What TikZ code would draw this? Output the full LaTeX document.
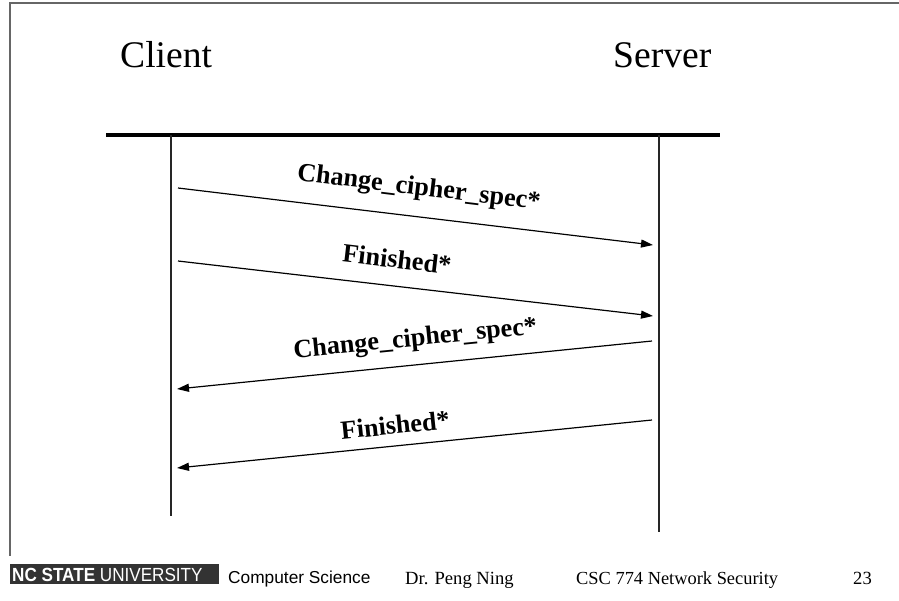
\documentclass[tikz,border=0pt]{standalone}
\usepackage{fontspec}
\setmainfont{Liberation Serif}
\setsansfont{Liberation Sans}
\newfontfamily\logofont[FakeStretch=0.9]{Liberation Sans}
\usetikzlibrary{arrows.meta}

\tikzset{
  frameline/.style={draw=black!60, line width=1.5pt},
  lifeline/.style={draw=black!85, line width=1.3pt},
  msg/.style={draw=black, line width=1.2pt, -{Triangle[length=12pt,width=8pt]}},
  party/.style={anchor=base west, inner sep=0pt, font=\fontsize{37.6}{40}\selectfont},
  msglabel/.style={anchor=base, inner sep=0pt, font=\fontsize{26.2}{28}\selectfont\bfseries},
  foot/.style={anchor=base west, inner sep=0pt},
}

\begin{document}
\begin{tikzpicture}[x=1pt, y=-1pt]
  \useasboundingbox (0,0) rectangle (899,600);

  % slide frame
  \draw[frameline] (899,3) -- (10,3) -- (10,556);

  % parties
  \node[party] (client) at (120,67) {Client};
  \node[party] (server) at (613,67) {Server};

  % header bar and lifelines
  \coordinate (barL) at (106,135);
  \coordinate (barR) at (720,135);
  \draw[line width=4pt] (barL) -- (barR);
  \coordinate (ctop) at (171,135);
  \coordinate (cbot) at (171,516);
  \coordinate (stop) at (659,135);
  \coordinate (sbot) at (659,532);
  \draw[lifeline] (ctop) -- (cbot);
  \draw[lifeline] (stop) -- (sbot);

  % message end points
  \coordinate (m1a) at (178,188); \coordinate (m1b) at (653,245);
  \coordinate (m2a) at (178,261); \coordinate (m2b) at (653,316);
  \coordinate (m3a) at (652,341); \coordinate (m3b) at (177,389);
  \coordinate (m4a) at (652,420); \coordinate (m4b) at (177,468);

  \draw[msg] (m1a) -- (m1b);
  \draw[msg] (m2a) -- (m2b);
  \draw[msg] (m3a) -- (m3b);
  \draw[msg] (m4a) -- (m4b);

  \node[msglabel, rotate=-6.86] (l1) at (418,195) {Change\_cipher\_spec*};
  \node[msglabel, rotate=-6.62] (l2) at (396,268) {Finished*};
  \node[msglabel, rotate=5.69]  (l3) at (416,346) {Change\_cipher\_spec*};
  \node[msglabel, rotate=5.8]   (l4) at (396,434) {Finished*};

  % footer
  \fill[black!80] (10,564) rectangle (219,584);
  \node[foot, text=white, font=\logofont\fontsize{19}{19}\selectfont] (ncsu) at (12,581.5)
    {\textbf{NC STATE} UNIVERSITY};
  \node[foot, font=\sffamily\fontsize{17.3}{18}\selectfont] (dept) at (228,583) {Computer Science};
  \node[foot, font=\fontsize{18.6}{19}\selectfont] (author) at (405,584) {Dr. Peng Ning};
  \node[foot, font=\fontsize{18.4}{19}\selectfont] (course) at (576,584) {CSC 774 Network Security};
  \node[foot, font=\fontsize{18.6}{19}\selectfont] (page) at (853,584) {23};
\end{tikzpicture}
\end{document}
